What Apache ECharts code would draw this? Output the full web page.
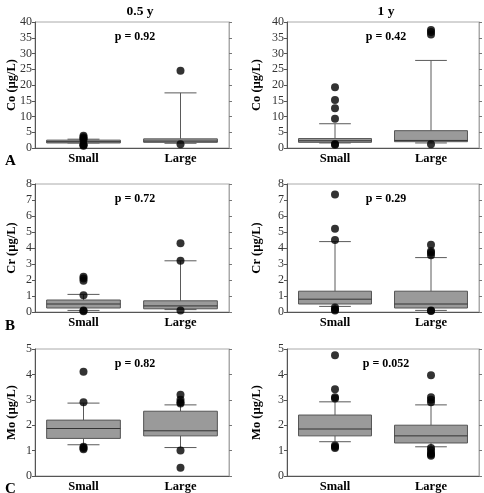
<!DOCTYPE html>
<html>
<head>
<meta charset="utf-8">
<script src="https://cdn.jsdelivr.net/npm/echarts@6/dist/echarts.min.js"></script>
<style>html,body{margin:0;padding:0;background:#fff;}#c{width:484px;height:493px;}</style>
</head>
<body>
<div id="c"></div>
<script>
var categories = ['Small', 'Large'];
var columnTitles = ['0.5 y', '1 y'];
var rowLetters = ['A', 'B', 'C'];
var yNames = ['Co (µg/L)', 'Cr (µg/L)', 'Mo (µg/L)'];
var yMax = [40, 8, 5];
var yInterval = [5, 1, 1];
var pValues = ['p = 0.92', 'p = 0.42', 'p = 0.72', 'p = 0.29', 'p = 0.82', 'p = 0.052'];

// box stats: [low whisker, Q1, median, Q3, high whisker] for Small, Large
var coHalfBox = [[1.6, 1.6, 2.0, 2.5, 2.8], [1.5, 1.8, 2.2, 2.9, 17.5]];
var coHalfOut = [[0, 3.9], [0, 3.4], [0, 3.0], [0, 2.6], [0, 1.2], [0, 0.9], [0, 0.7], [1, 24.5], [1, 1.2]];
var coOneBox = [[1.6, 1.8, 2.3, 3.0, 7.7], [1.6, 2.0, 2.4, 5.5, 27.8]];
var coOneOut = [[0, 19.3], [0, 15.2], [0, 12.6], [0, 9.3], [0, 1.3], [0, 1.0], [1, 37.5], [1, 36.8], [1, 36.0], [1, 1.2]];
var crHalfBox = [[0.1, 0.25, 0.5, 0.75, 1.1], [0.15, 0.2, 0.38, 0.7, 3.2]];
var crHalfOut = [[0, 2.2], [0, 2.1], [0, 1.95], [0, 1.05], [0, 0.1], [0, 0.05], [1, 4.3], [1, 3.2], [1, 0.1]];
var crOneBox = [[0.35, 0.5, 0.8, 1.3, 4.4], [0.1, 0.25, 0.5, 1.3, 3.4]];
var crOneOut = [[0, 7.35], [0, 5.2], [0, 4.5], [0, 0.28], [0, 0.15], [0, 0.1], [1, 4.2], [1, 3.8], [1, 3.7], [1, 3.55], [1, 0.1], [1, 0.06]];
var moHalfBox = [[1.23, 1.48, 1.87, 2.2, 2.87], [1.12, 1.58, 1.78, 2.55, 2.8]];
var moHalfOut = [[0, 4.1], [0, 2.9], [0, 1.15], [0, 1.1], [0, 1.05], [1, 3.2], [1, 3.0], [1, 2.9], [1, 2.85], [1, 1.0], [1, 0.32]];
var moOneBox = [[1.35, 1.58, 1.85, 2.4, 2.92], [1.15, 1.3, 1.58, 2.0, 2.8]];
var moOneOut = [[0, 4.75], [0, 3.42], [0, 3.1], [0, 3.05], [0, 1.2], [0, 1.15], [0, 1.1], [1, 3.97], [1, 3.1], [1, 3.0], [1, 2.9], [1, 1.1], [1, 1.0], [1, 0.9], [1, 0.85], [1, 0.8]];

var boxes = [coHalfBox, coOneBox, crHalfBox, crOneBox, moHalfBox, moOneBox];
var outliers = [coHalfOut, coOneOut, crHalfOut, crOneOut, moHalfOut, moOneOut];

var colLeft = [35, 287], colWidth = [194, 192];
var rowTop = [22, 184, 349], rowHeight = [126, 128, 128];
var serif = 'Times New Roman';

var grids = [], xAxes = [], yAxes = [], series = [], titles = [];
for (var i = 0; i < 6; i++) {
  var r = Math.floor(i / 2), c = i % 2;
  grids.push({left: colLeft[c], top: rowTop[r], width: colWidth[c], height: rowHeight[r], show: true, borderColor: '#aaaaaa', borderWidth: 1, backgroundColor: 'transparent'});
  xAxes.push({type: 'category', gridIndex: i, data: categories,
    axisLine: {lineStyle: {color: '#555', width: 1}}, axisTick: {show: false},
    axisLabel: {color: '#000', fontFamily: serif, fontWeight: 'bold', fontSize: 12.5, margin: 4}});
  yAxes.push({type: 'value', gridIndex: i, min: 0, max: yMax[r], interval: yInterval[r],
    name: yNames[r], nameLocation: 'middle', nameGap: (c === 0 ? 17 : 24), nameRotate: 90,
    nameMoveOverlap: false,
    nameTextStyle: {color: '#000', fontFamily: serif, fontWeight: 'bold', fontSize: 12.5},
    axisLine: {show: true, lineStyle: {color: '#555', width: 1}},
    axisTick: {show: true, length: 3, lineStyle: {color: '#555'}},
    axisLabel: {color: '#333', fontFamily: serif, fontSize: 12, margin: 3},
    splitLine: {show: false}});
  yAxes.push({type: 'value', gridIndex: i, position: 'right', min: 0, max: yMax[r], interval: yInterval[r],
    axisLine: {show: true, lineStyle: {color: '#aaa', width: 1}},
    axisTick: {show: true, length: 3, lineStyle: {color: '#777'}},
    axisLabel: {show: false}, splitLine: {show: false}});
  var boxData = boxes[i].map(function (b, k) { return [k].concat(b); });
  series.push({type: 'custom', xAxisIndex: i, yAxisIndex: 2 * i, data: boxData,
    renderItem: function (params, api) {
      var x = api.value(0);
      var low = api.coord([x, api.value(1)]);
      var q1 = api.coord([x, api.value(2)]);
      var med = api.coord([x, api.value(3)]);
      var q3 = api.coord([x, api.value(4)]);
      var high = api.coord([x, api.value(5)]);
      var band = api.size([1, 0])[0];
      var bw = band * 0.76, cw = band * 0.33;
      var cx = low[0];
      var wl = {stroke: '#5a5a5a', lineWidth: 1};
      return {type: 'group', children: [
        {type: 'line', shape: {x1: cx, y1: q3[1], x2: cx, y2: high[1]}, style: wl},
        {type: 'line', shape: {x1: cx, y1: q1[1], x2: cx, y2: low[1]}, style: wl},
        {type: 'line', shape: {x1: cx - cw / 2, y1: high[1], x2: cx + cw / 2, y2: high[1]}, style: wl},
        {type: 'line', shape: {x1: cx - cw / 2, y1: low[1], x2: cx + cw / 2, y2: low[1]}, style: wl},
        {type: 'rect', shape: {x: cx - bw / 2, y: q3[1], width: bw, height: q1[1] - q3[1]}, style: {fill: '#9a9a9a', stroke: '#555', lineWidth: 1}},
        {type: 'line', shape: {x1: cx - bw / 2, y1: med[1], x2: cx + bw / 2, y2: med[1]}, style: {stroke: '#333', lineWidth: 1}}
      ]};
    }, z: 2});
  series.push({type: 'scatter', xAxisIndex: i, yAxisIndex: 2 * i, data: outliers[i],
    symbolSize: 8, itemStyle: {color: '#000'}, z: 3});
  titles.push({text: pValues[i], left: colLeft[c] + colWidth[c] / 2 - 2, top: rowTop[r] + 4, textAlign: 'center',
    textStyle: {fontFamily: serif, fontWeight: 'bold', fontSize: 12, color: '#000'}});
}
titles.push({text: columnTitles[0], left: 135, top: 0, textAlign: 'center', textStyle: {fontFamily: serif, fontWeight: 'bold', fontSize: 13.5, color: '#000'}});
titles.push({text: columnTitles[1], left: 381, top: 0, textAlign: 'center', textStyle: {fontFamily: serif, fontWeight: 'bold', fontSize: 13.5, color: '#000'}});
var letterTops = [149, 314, 477];
for (var j = 0; j < 3; j++) {
  titles.push({text: rowLetters[j], left: 0, top: letterTops[j], textStyle: {fontFamily: serif, fontWeight: 'bold', fontSize: 15, color: '#000'}});
}

var chart = echarts.init(document.getElementById('c'), null, {renderer: 'canvas'});
chart.setOption({animation: false, backgroundColor: '#fff', title: titles, grid: grids, xAxis: xAxes, yAxis: yAxes, series: series});
</script>
</body>
</html>
